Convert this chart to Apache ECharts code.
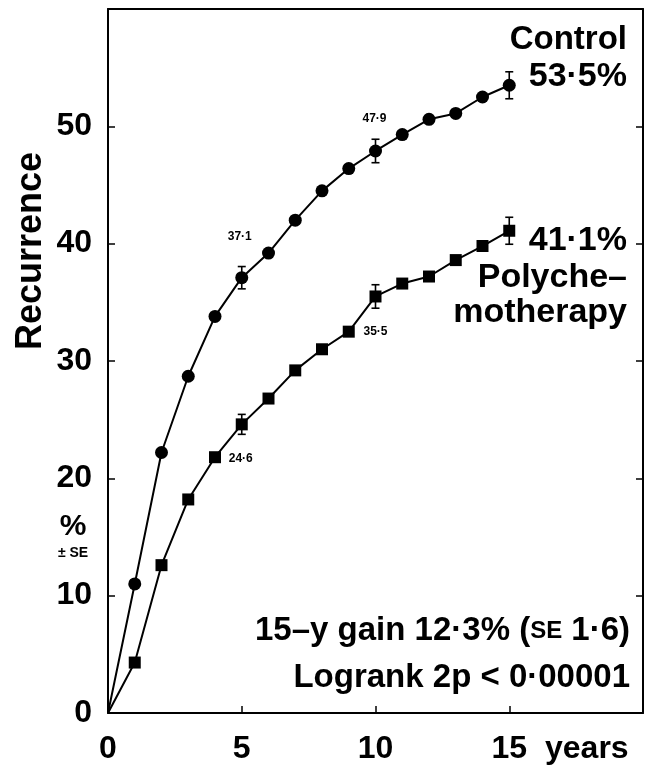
<!DOCTYPE html>
<html>
<head>
<meta charset="utf-8">
<script src="https://cdn.jsdelivr.net/npm/echarts@6/dist/echarts.min.js"></script>
<style>
  html, body { margin: 0; padding: 0; background: #fff; }
  #chart { width: 648px; height: 767px; }
</style>
</head>
<body>
<div id="chart"></div>
<script>
// Years of follow-up and cumulative recurrence (%) for each arm
const years = [0, 1, 2, 3, 4, 5, 6, 7, 8, 9, 10, 11, 12, 13, 14, 15];
const controlRecurrence = [0, 11.0, 22.2, 28.7, 33.8, 37.1, 39.2, 42.0, 44.5, 46.4, 47.9, 49.3, 50.6, 51.1, 52.5, 53.5];
const polyRecurrence    = [0, 4.3, 12.6, 18.2, 21.8, 24.6, 26.8, 29.2, 31.0, 32.5, 35.5, 36.6, 37.2, 38.6, 39.8, 41.1];

// Standard errors shown as bars at 5, 10 and 15 years
const seYears   = [5, 10, 15];
const controlSE = [0.95, 1.0, 1.15];
const polySE    = [0.85, 1.0, 1.15];

// Years whose value is printed next to the curve
const labelledYears = [5, 10];

const FONT = "'Liberation Sans', Arial, Helvetica, sans-serif";
const fmt = v => v.toFixed(1).replace('.', '\u00B7');

function seriesPoints(values, labelOffsets) {
  return years.map((yr, i) => {
    const item = { value: [yr, values[i]] };
    if (yr === 0) item.symbol = 'none';
    const k = labelledYears.indexOf(yr);
    if (k >= 0) {
      item.label = {
        show: true,
        position: 'inside',
        offset: labelOffsets[k],
        formatter: () => fmt(values[i]),
        color: '#000',
        fontFamily: FONT,
        fontWeight: 'bold',
        fontSize: 12
      };
    }
    return item;
  });
}

function errorData(values, se) {
  return seYears.map((yr, i) => [yr, values[years.indexOf(yr)], se[i]]);
}

function renderErrorBar(params, api) {
  const x = api.value(0), v = api.value(1), e = api.value(2);
  const hi = api.coord([x, v + e]);
  const lo = api.coord([x, v - e]);
  const w = 4;
  const st = { stroke: '#000', lineWidth: 1.6 };
  return {
    type: 'group',
    children: [
      { type: 'line', shape: { x1: hi[0], y1: hi[1], x2: lo[0], y2: lo[1] }, style: st },
      { type: 'line', shape: { x1: hi[0] - w, y1: hi[1], x2: hi[0] + w, y2: hi[1] }, style: st },
      { type: 'line', shape: { x1: lo[0] - w, y1: lo[1], x2: lo[0] + w, y2: lo[1] }, style: st }
    ]
  };
}

const chart = echarts.init(document.getElementById('chart'), null, { renderer: 'canvas' });

const axisTextStyle = { color: '#000', fontFamily: FONT, fontWeight: 'bold', fontSize: 32 };
const axisLine = { show: true, onZero: false, lineStyle: { color: '#000', width: 2 } };
const axisTick = { show: true, inside: true, length: 7, lineStyle: { color: '#000', width: 1.5 } };

chart.setOption({
  animation: false,
  backgroundColor: '#fff',
  grid: { left: 108, right: 5, top: 9, bottom: 54 },
  xAxis: [
    {
      type: 'value', min: 0, max: 20, interval: 5, position: 'bottom',
      axisLine, axisTick, splitLine: { show: false },
      axisLabel: Object.assign({ margin: 20, showMaxLabel: false }, axisTextStyle)
    },
    {
      type: 'value', min: 0, max: 20, interval: 5, position: 'top',
      axisLine, axisTick: { show: false }, axisLabel: { show: false }, splitLine: { show: false }
    }
  ],
  yAxis: [
    {
      type: 'value', min: 0, max: 60, interval: 10, position: 'left',
      axisLine, axisTick, splitLine: { show: false },
      axisLabel: Object.assign({ margin: 16, showMaxLabel: false }, axisTextStyle)
    },
    {
      type: 'value', min: 0, max: 60, interval: 10, position: 'right',
      axisLine, axisTick, axisLabel: { show: false }, splitLine: { show: false }
    }
  ],
  series: [
    {
      name: 'Control', type: 'line',
      data: seriesPoints(controlRecurrence, [[-2, -41], [-1, -32]]),
      symbol: 'circle', symbolSize: 13, showAllSymbol: true,
      lineStyle: { color: '#000', width: 2 },
      itemStyle: { color: '#000' },
      z: 3
    },
    {
      name: 'Polychemotherapy', type: 'line',
      data: seriesPoints(polyRecurrence, [[-1, 34], [0, 35]]),
      symbol: 'rect', symbolSize: 12, showAllSymbol: true,
      lineStyle: { color: '#000', width: 2 },
      itemStyle: { color: '#000' },
      z: 3
    },
    {
      type: 'custom', renderItem: renderErrorBar,
      data: errorData(controlRecurrence, controlSE), z: 4
    },
    {
      type: 'custom', renderItem: renderErrorBar,
      data: errorData(polyRecurrence, polySE), z: 4
    }
  ],
  graphic: [
    { type: 'text', x: 31, y: 251, rotation: Math.PI / 2,
      style: { text: 'Recurrence', fill: '#000', font: `bold 36px ${FONT}`, align: 'center', verticalAlign: 'middle' } },
    { type: 'text', x: 73, y: 527,
      style: { text: '%', fill: '#000', font: `bold 30px ${FONT}`, align: 'center', verticalAlign: 'middle' } },
    { type: 'text', x: 73, y: 553,
      style: { text: '\u00B1 SE', fill: '#000', font: `bold 14px ${FONT}`, align: 'center', verticalAlign: 'middle' } },
    { type: 'text', x: 545, y: 749,
      style: { text: 'years', fill: '#000', font: `bold 32px ${FONT}`, align: 'left', verticalAlign: 'middle' } },
    { type: 'text', x: 627, y: 40,
      style: { text: 'Control', fill: '#000', font: `bold 33px ${FONT}`, align: 'right', verticalAlign: 'middle' } },
    { type: 'text', x: 627, y: 77,
      style: { text: fmt(controlRecurrence[15]) + '%', fill: '#000', font: `bold 34px ${FONT}`, align: 'right', verticalAlign: 'middle' } },
    { type: 'text', x: 627, y: 241,
      style: { text: fmt(polyRecurrence[15]) + '%', fill: '#000', font: `bold 34px ${FONT}`, align: 'right', verticalAlign: 'middle' } },
    { type: 'text', x: 627, y: 278,
      style: { text: 'Polyche\u2013', fill: '#000', font: `bold 34px ${FONT}`, align: 'right', verticalAlign: 'middle' } },
    { type: 'text', x: 627, y: 313,
      style: { text: 'motherapy', fill: '#000', font: `bold 34px ${FONT}`, align: 'right', verticalAlign: 'middle' } },
    { type: 'text', x: 630, y: 631,
      style: {
        text: '{a|15\u2013y gain 12\u00B73% (}{s|SE}{a| 1\u00B76)}',
        align: 'right', verticalAlign: 'middle',
        rich: {
          a: { fill: '#000', fontFamily: FONT, fontWeight: 'bold', fontSize: 33 },
          s: { fill: '#000', fontFamily: FONT, fontWeight: 'bold', fontSize: 24 }
        }
      } },
    { type: 'text', x: 630, y: 678,
      style: { text: 'Logrank 2p < 0\u00B700001', fill: '#000', font: `bold 33px ${FONT}`, align: 'right', verticalAlign: 'middle' } }
  ]
});
</script>
</body>
</html>
